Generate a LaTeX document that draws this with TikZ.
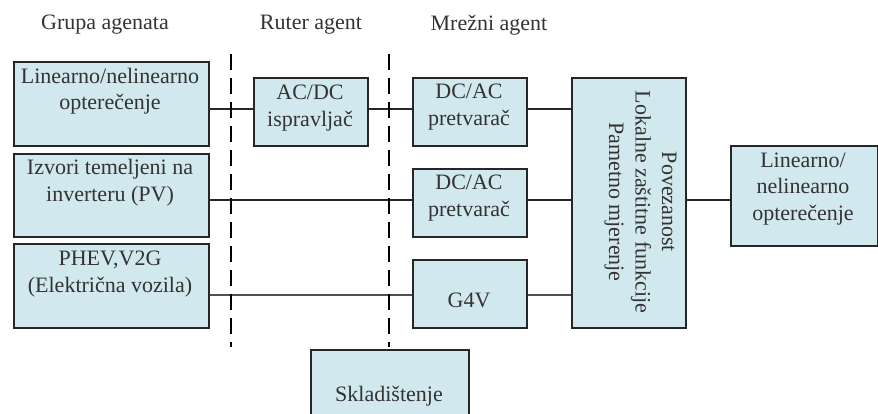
\documentclass[tikz,border=0pt]{standalone}
\usepackage{fontspec}
\setmainfont{Liberation Serif}
\definecolor{boxfill}{HTML}{D1E8EE}
\definecolor{inkline}{HTML}{262626}
\definecolor{inktext}{HTML}{333333}
\tikzset{
  x=1pt,y=-1pt,
  blockbox/.style={draw=inkline,line width=1.9pt,fill=boxfill,inner sep=0pt,anchor=north west},
  lab/.style={text=inktext,font=\fontsize{22}{26.5}\selectfont,align=center,inner sep=0pt},
  wire/.style={draw=inkline,line width=1.6pt},
  divider/.style={draw=black,line width=2pt,dash pattern=on 16pt off 8pt}
}
\newcommand{\blk}[5]{\node[blockbox,minimum width=#3pt,minimum height=#4pt] (#5) at (#1,#2) {};}
\begin{document}
\begin{tikzpicture}
\useasboundingbox (0,0) rectangle (878,414);
\blk{13}{61}{195}{84}{gr1}
\blk{13}{153}{195}{83}{gr2}
\blk{13}{243}{195}{84}{gr3}
\blk{253}{77}{114}{68}{rect}
\blk{412}{77}{114}{68}{dc1}
\blk{412}{168}{114}{68}{dc2}
\blk{412}{259}{114}{68}{gfv}
\blk{571}{77}{114}{250}{cen}
\blk{730}{145}{147}{100}{load}
\blk{310}{349}{158}{64.5}{stor}
\coordinate (d1t) at (231,54); \coordinate (d1b) at (231,347);
\coordinate (d2t) at (389.2,54); \coordinate (d2b) at (389.2,347);
\draw[wire] (gr1.east |- 0,109) -- (rect.west |- 0,109);
\draw[wire] (rect.east |- 0,109) -- (dc1.west |- 0,109);
\draw[wire] (gr2.east |- 0,200) -- (dc2.west |- 0,200);
\draw[wire,line width=2pt,draw=inkline!80] (gr3.east |- 0,295) -- (gfv.west |- 0,295);
\draw[wire] (dc1.east |- 0,109) -- (cen.west |- 0,109);
\draw[wire] (dc2.east |- 0,200) -- (cen.west |- 0,200);
\draw[wire,line width=2pt,draw=inkline!80] (gfv.east |- 0,295) -- (cen.west |- 0,295);
\draw[wire] (cen.east |- 0,200) -- (load.west |- 0,200);
\draw[divider] (d1t) -- (d1b);
\draw[divider] (d2t) -- (d2b);
\node[lab] (h1) at (105,25) {Grupa agenata};
\node[lab] (h2) at (311,25) {Ruter agent};
\node[lab] (h3) at (489,25) {Mrežni agent};
\node[lab] (t1) at (110,91) {Linearno/nelinearno\\opterečenje};
\node[lab] (t2) at (110,182.5) {Izvori temeljeni na\\inverteru (PV)};
\node[lab] (t3) at (110,274) {PHEV,V2G\\(Električna vozila)};
\node[lab] (t4) at (310,108) {AC/DC\\ispravljač};
\node[lab] (t5) at (469,107) {DC/AC\\pretvarač};
\node[lab] (t6) at (469,198) {DC/AC\\pretvarač};
\node[lab] (t7) at (469,300) {G4V};
\node[lab,rotate=-90] (t8) at (640.5,202) {Povezanost\\Lokalne zaštitne funkcije\\Pametno mjerenje};
\node[lab] (t9) at (803,189) {Linearno/\\nelinearno\\opterečenje};
\node[lab] (t10) at (389,396) {Skladištenje};
\end{tikzpicture}
\end{document}
